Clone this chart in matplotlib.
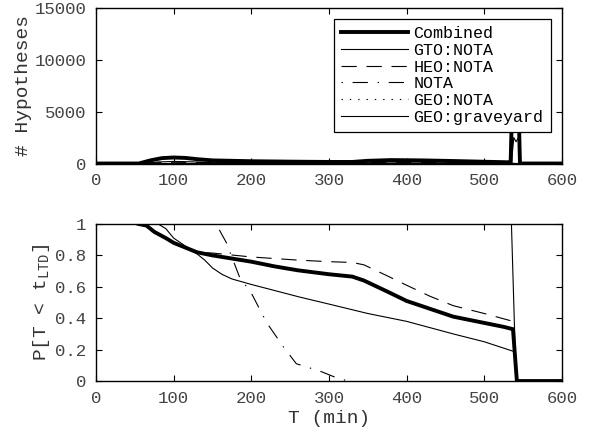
import numpy as np
import matplotlib.pyplot as plt

plt.rcParams['font.family'] = ['Liberation Mono', 'DejaVu Sans Mono']
plt.rcParams['mathtext.fontset'] = 'custom'
plt.rcParams['mathtext.rm'] = 'Liberation Mono'
plt.rcParams['lines.scale_dashes'] = False

######################################## Dados ########################################
# Numero de hipoteses (painel de cima)
t_comb_h = [0, 55, 70, 85, 100, 115, 130, 150, 200, 250, 300, 330, 350, 380, 420, 460, 500, 530, 534, 536, 544, 546, 600]
comb_h = [0, 0, 300, 520, 580, 540, 420, 300, 220, 180, 150, 150, 260, 330, 300, 240, 170, 120, 150, 6000, 6000, 0, 0]
t_gto_h = [0, 60, 80, 100, 120, 140, 200, 300, 400, 500, 535, 540, 600]
gto_h = [0, 0, 150, 200, 170, 120, 80, 50, 60, 40, 30, 0, 0]
t_heo_h = [0, 60, 80, 100, 130, 200, 300, 380, 500, 535, 540, 600]
heo_h = [0, 0, 80, 120, 100, 70, 60, 120, 60, 40, 0, 0]
t_nota_h = [0, 145, 170, 200, 250, 325, 600]
nota_h = [0, 0, 40, 30, 15, 0, 0]
t_geo_h = [0, 600]
geo_h = [0, 0]
t_grave_h = [0, 535, 538, 541, 544, 547, 600]
grave_h = [0, 0, 2500, 2100, 2500, 0, 0]

# Probabilidade P[T < t_LTD] (painel de baixo)
t_comb_p = [55, 65, 75, 90, 100, 115, 130, 150, 175, 200, 230, 260, 300, 330, 345, 375, 400, 430, 460, 500, 525, 537, 542, 600]
comb_p = [1.0, 0.99, 0.95, 0.91, 0.88, 0.85, 0.82, 0.80, 0.78, 0.76, 0.73, 0.705, 0.68, 0.665, 0.64, 0.57, 0.51, 0.46, 0.41, 0.37, 0.345, 0.33, 0.0, 0.0]
t_gto_p = [80, 90, 100, 115, 130, 140, 150, 162, 175, 200, 262, 300, 350, 400, 460, 500, 537]
gto_p = [1.0, 0.97, 0.91, 0.86, 0.81, 0.77, 0.72, 0.68, 0.65, 0.615, 0.535, 0.49, 0.43, 0.38, 0.30, 0.25, 0.19]
t_heo_p = [55, 65, 75, 90, 100, 115, 130, 150, 200, 260, 300, 330, 345, 375, 400, 430, 460, 500, 537]
heo_p = [1.0, 0.99, 0.95, 0.91, 0.88, 0.85, 0.82, 0.815, 0.79, 0.77, 0.76, 0.755, 0.74, 0.67, 0.61, 0.54, 0.48, 0.43, 0.38]
t_nota_p = [147, 158, 168, 185, 200, 220, 241, 258, 271, 290, 310, 325]
nota_p = [1.0, 0.97, 0.88, 0.66, 0.56, 0.37, 0.22, 0.11, 0.09, 0.06, 0.02, 0.0]
t_geo_p = [542, 600]
geo_p = [0.0, 0.0]
t_grave_p = [535, 541, 600]
grave_p = [1.0, 0.0, 0.0]

labels = ['Combined', 'GTO:NOTA', 'HEO:NOTA', 'NOTA', 'GEO:NOTA', 'GEO:graveyard']
########################################################################################################

styles = [dict(color='k', lw=2.8, solid_joinstyle='miter'),
          dict(color='k', lw=0.8),
          dict(color='k', lw=0.8, dashes=(11, 7)),
          dict(color='k', lw=0.8, dashes=(1, 7, 11, 7)),
          dict(color='k', lw=0.8, dashes=(1, 5)),
          dict(color='k', lw=0.8)]

fig = plt.figure(figsize=(5.89, 4.32), dpi=100)
ax = fig.add_axes([0.163, 0.6215, 0.791, 0.36])
ax1 = fig.add_axes([0.163, 0.118, 0.791, 0.3635])

series_h = [(t_comb_h, comb_h), (t_gto_h, gto_h), (t_heo_h, heo_h), (t_nota_h, nota_h), (t_geo_h, geo_h), (t_grave_h, grave_h)]
series_p = [(t_comb_p, comb_p), (t_gto_p, gto_p), (t_heo_p, heo_p), (t_nota_p, nota_p), (t_geo_p, geo_p), (t_grave_p, grave_p)]

for (x, y), lab, st in zip(series_h, labels, styles):
    ax.plot(x, y, label=lab, **st)
for (x, y), st in zip(series_p, styles):
    ax1.plot(x, y, **st)

ax.set_xlim([0, 600])
ax.set_ylim([0, 15000])
ax.set_yticks([0, 5000, 10000, 15000])
ax.set_ylabel('# Hypotheses', fontsize=14, color='#333333', labelpad=2)
leg = ax.legend(loc='upper right', fontsize=12, handlelength=4.0, handletextpad=0.35, labelspacing=0.1,
                borderpad=0.45, borderaxespad=0.65, fancybox=False, framealpha=1, edgecolor='k')
leg.get_frame().set_linewidth(0.9)

ax1.set_xlim([0, 600])
ax1.set_ylim([0, 1])
ax1.set_yticks([0, 0.2, 0.4, 0.6, 0.8, 1])
ax1.set_yticklabels(['0', '0.2', '0.4', '0.6', '0.8', '1'])
ax1.set_xlabel('T (min)', fontsize=14, color='#333333', labelpad=3)
ax1.set_ylabel(r'P[T < t$_\mathrm{LTD}$]', fontsize=14, color='#333333', labelpad=2)

for a in (ax, ax1):
    a.set_xticks([0, 100, 200, 300, 400, 500, 600])
    a.tick_params(direction='in', top=True, right=True, length=4, width=0.8, labelsize=12.5,
                  labelcolor='#444444', pad=7)
    for s in a.spines.values():
        s.set_linewidth(1.0)

plt.savefig('out.png', dpi=100)
plt.close()
